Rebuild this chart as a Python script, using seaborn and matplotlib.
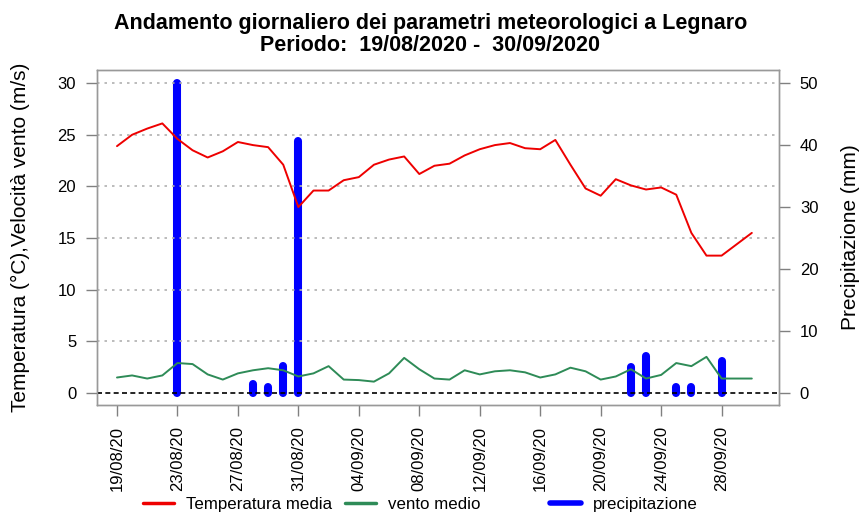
import numpy as np
import pandas as pd
import matplotlib
matplotlib.use("Agg")
import matplotlib.pyplot as plt
import matplotlib.dates as mdates
from matplotlib.lines import Line2D
import seaborn as sns

# daily values 19/08/2020 - 30/09/2020
temperatura = [23.9, 25.0, 25.6, 26.1, 24.6, 23.5, 22.8, 23.4, 24.3, 24.0,
               23.8, 22.1, 18.0, 19.6, 19.6, 20.6, 20.9, 22.1, 22.6, 22.9,
               21.2, 22.0, 22.2, 23.0, 23.6, 24.0, 24.2, 23.7, 23.6, 24.5,
               22.1, 19.8, 19.1, 20.7, 20.1, 19.7, 19.9, 19.2, 15.5, 13.3,
               13.3, 14.4, 15.5]
vento = [1.5, 1.7, 1.4, 1.7, 2.9, 2.8, 1.8, 1.3, 1.9, 2.2,
         2.4, 2.2, 1.6, 1.9, 2.6, 1.3, 1.25, 1.1, 1.9, 3.4,
         2.3, 1.4, 1.3, 2.2, 1.8, 2.1, 2.2, 2.0, 1.5, 1.8,
         2.45, 2.1, 1.3, 1.6, 2.3, 1.4, 1.75, 2.9, 2.6, 3.5,
         1.4, 1.4, 1.4]
pioggia = [0, 0, 0, 0, 50.0, 0, 0, 0, 0, 1.4,
           0.9, 4.3, 40.7, 0, 0, 0, 0, 0, 0, 0,
           0, 0, 0, 0, 0, 0, 0, 0, 0, 0,
           0, 0, 0, 0, 4.2, 6.0, 0, 0.9, 0.9, 0,
           5.1, 0, 0]

date = pd.date_range("2020-08-19", "2020-09-30", freq="D")
df = pd.DataFrame({"data": date, "temp": temperatura, "vento": vento, "pioggia": pioggia})

sns.set_style("white")
plt.rcParams["font.family"] = ["Liberation Sans", "DejaVu Sans"]
plt.rcParams["text.color"] = "black"
plt.rcParams["axes.labelcolor"] = "black"

fig = plt.figure(figsize=(8.61, 5.14), dpi=100)
ax = fig.add_axes([0.1127, 0.2121, 0.7921, 0.6517])
ax2 = ax.twinx()

# grid + zero line
for y in [5, 10, 15, 20, 25, 30]:
    ax.axhline(y, color="#b0b0b0", lw=1.2, ls=(0, (1.5, 3)), zorder=0)
ax.axhline(0, color="black", lw=1.2, ls=(0, (3, 2)), zorder=1)

sns.lineplot(data=df, x="data", y="temp", ax=ax, color="#ee0000", lw=1.4, zorder=3)
sns.lineplot(data=df, x="data", y="vento", ax=ax, color="#2e8b57", lw=1.4, zorder=3)

rain = df[df["pioggia"] > 0]
ax2.vlines(rain["data"], 0, rain["pioggia"], color="#0000ff", lw=5.8,
           capstyle="round", zorder=4)

ax.set_zorder(ax2.get_zorder() + 1)
ax.patch.set_visible(False)

ax.set_xlim(date[0] - pd.Timedelta(days=1.32), date[0] + pd.Timedelta(days=43.8))
ax.set_ylim(-1.16, 31.27)
ax2.set_ylim(-1.94, 52.1)

ax.set_yticks([0, 5, 10, 15, 20, 25, 30])
ax2.set_yticks([0, 10, 20, 30, 40, 50])
ax.set_xticks(date[::4])
ax.xaxis.set_major_formatter(mdates.DateFormatter("%d/%m/%y"))
for lab in ax.get_xticklabels():
    lab.set_rotation(90)

for a in (ax, ax2):
    a.tick_params(axis="both", direction="out", length=8, width=1, color="#808080",
                  labelcolor="black", labelsize=12, pad=7,
                  left=(a is ax), bottom=(a is ax), right=(a is ax2))
    for s in a.spines.values():
        s.set_color("#999999")
        s.set_linewidth(1)

ax.set_xlabel("")
ax.set_ylabel("Temperatura (°C),Velocità vento (m/s)", fontsize=15, labelpad=20)
ax2.set_ylabel("Precipitazione (mm)", fontsize=15, labelpad=16)

fig.suptitle("Andamento giornaliero dei parametri meteorologici a Legnaro\n"
             "Periodo:  19/08/2020 -  30/09/2020",
             x=0.5, y=0.975, fontsize=15.5, fontweight="bold", linespacing=1.05)

# legend: three fixed-width columns like the original
entries = [("#ee0000", 2.5, "Temperatura media", 143),
           ("#2e8b57", 2.5, "vento medio", 345),
           ("#0000ff", 4.0, "precipitazione", 550)]
for col, lw, lab, xpix in entries:
    fig.legend([Line2D([], [], color=col, lw=lw)], [lab],
               loc="center left", bbox_to_anchor=(xpix / 861, 0.018),
               frameon=False, fontsize=12.2, handlelength=1.85, handletextpad=0.7,
               borderpad=0, borderaxespad=0)

fig.savefig("out.png", dpi=100)
